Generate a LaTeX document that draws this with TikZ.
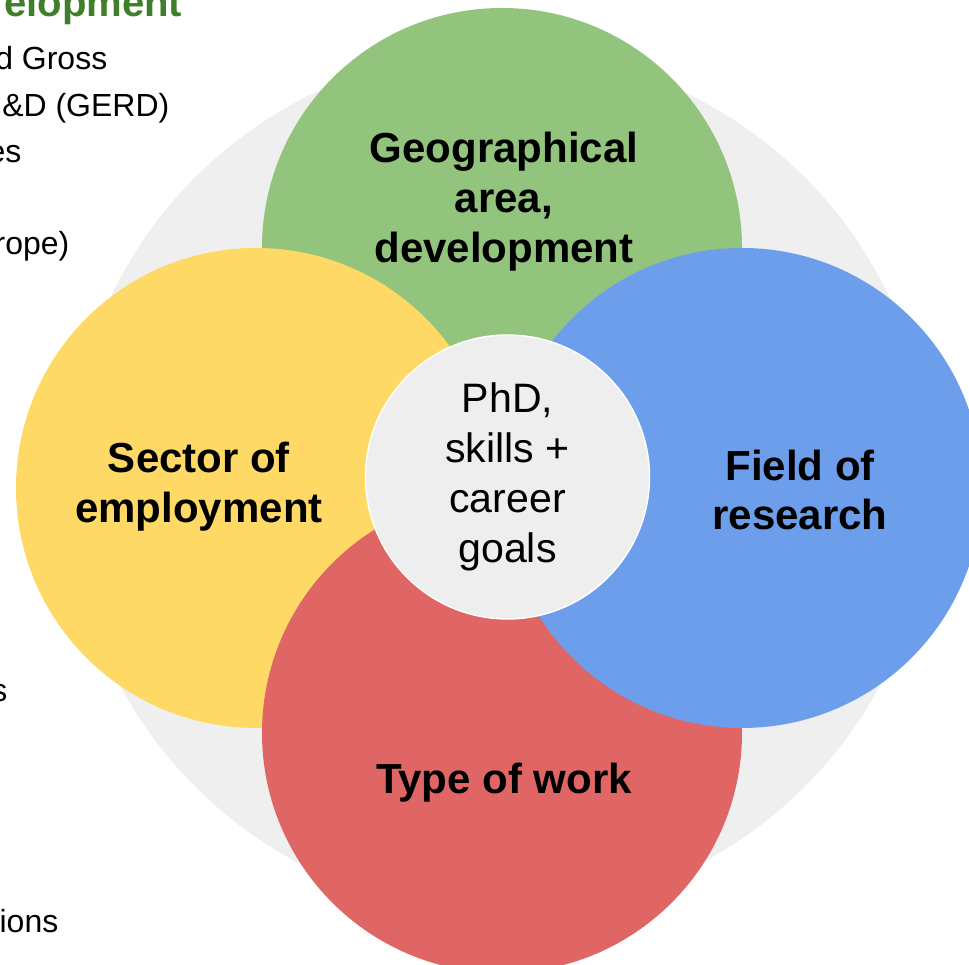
\documentclass[tikz,border=0pt]{standalone}
\usepackage{fontspec}
\setmainfont{Liberation Sans}
\definecolor{vert}{HTML}{93C47D}
\definecolor{vertfonce}{HTML}{3F7F2A}
\definecolor{jaune}{HTML}{FFD966}
\definecolor{rouge}{HTML}{E06666}
\definecolor{bleu}{HTML}{6D9EEB}
\definecolor{gris}{HTML}{EEEEEE}
\definecolor{grisfond}{HTML}{EFEFEF}

\begin{document}
\begin{tikzpicture}[
  disc/.style={circle,inner sep=0pt,minimum size=4.8cm},
  bold text/.style={font=\fontsize{11.95}{14.2}\selectfont\bfseries,align=center},
  side text/.style={font=\fontsize{9.1}{13}\selectfont,anchor=base east,inner sep=0pt}]
\useasboundingbox (0,0) rectangle (9.69,9.65);
\clip (0,0) rectangle (9.69,9.65);

% description et nommage des disques
\node (fond) at (5.00,4.83) [circle,fill=grisfond,inner sep=0pt,minimum size=8.62cm] {};
\node (geo) at (5.02,7.17) [disc,fill=vert] {};
\node (sector) at (2.56,4.77) [disc,fill=jaune] {};
\node (work) at (5.02,2.32) [disc,fill=rouge] {};
\node (field) at (7.42,4.77) [disc,fill=bleu] {};
\node (phd) at (5.075,4.88) [circle,fill=gris,draw=white,line width=0.4pt,inner sep=0pt,minimum size=2.84cm,
  font=\fontsize{11.7}{14.2}\selectfont,align=center] {PhD,\\skills +\\career\\goals};

% textes des disques
\node (geoT) at (5.04,7.63) [bold text] {Geographical\\area,\\development};
\node (sectorT) at (1.99,4.78) [bold text] {Sector of\\employment};
\node (fieldT) at (8.00,4.75) [bold text] {Field of\\research};
\node (workT) at (5.04,1.82) [bold text] {Type of work};

% texte coupe a gauche
\node (devT) at (1.83,9.48) [side text,font=\fontsize{11.4}{13}\selectfont\bfseries,text=vertfonce] {elopment};
\node (grossT) at (1.08,8.95) [side text] {d Gross};
\node (gerdT) at (1.70,8.48) [side text] {\&D (GERD)};
\node (esT) at (0.22,8.02) [side text] {es};
\node (ropeT) at (0.70,7.10) [side text] {rope)};
\node (sT) at (0.08,2.63) [side text] {s};
\node (ionsT) at (0.59,0.32) [side text] {ions};
\end{tikzpicture}
\end{document}
